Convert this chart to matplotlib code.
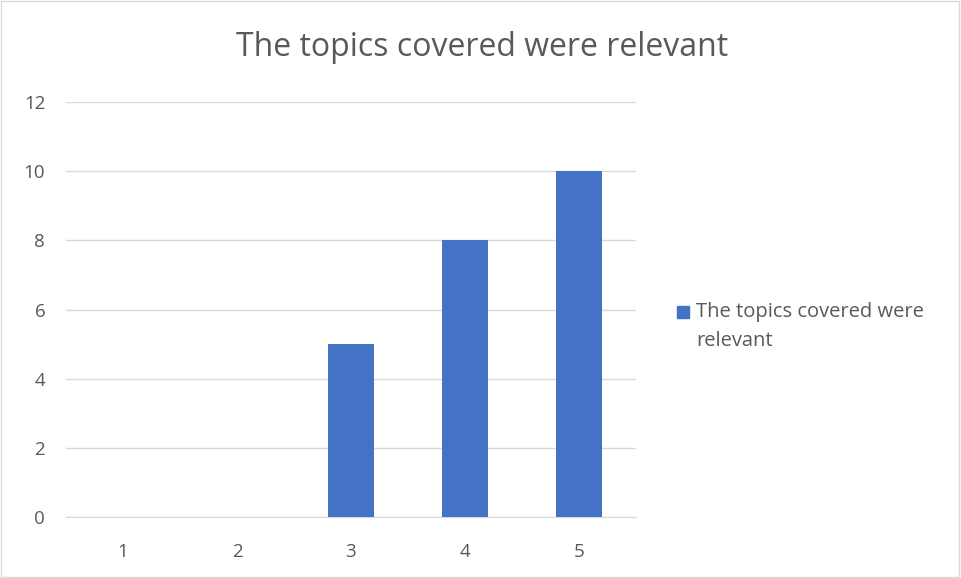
import matplotlib.pyplot as plt
from matplotlib.patches import Rectangle

categories = ['1', '2', '3', '4', '5']
values = [0, 0, 5, 8, 10]
y_ticks = [0, 2, 4, 6, 8, 10, 12]
title = 'The topics covered were relevant'
series_name = 'The topics covered were\nrelevant'

plt.rcParams['font.family'] = ['Open Sans', 'DejaVu Sans']
txt = '#595959'
bar_color = '#4472C4'

fig = plt.figure(figsize=(9.61, 5.78), dpi=100)
ax = fig.add_axes([0.0687, 0.1055, 0.593, 0.718])

x = list(range(1, len(categories) + 1))
ax.bar(x, values, width=0.4, color=bar_color, zorder=3)
ax.set_xlim(0.5, 5.5)
ax.set_ylim(0, 12)
ax.set_yticks(y_ticks)
ax.set_xticks(x)
ax.set_xticklabels(categories)
ax.grid(axis='y', color='#D9D9D9', linewidth=1, zorder=0)
for s in ['top', 'right', 'left']:
    ax.spines[s].set_visible(False)
ax.spines['bottom'].set_color('#D9D9D9')
ax.tick_params(length=0, labelsize=13.5, colors=txt)
ax.tick_params(axis='y', pad=15)
ax.tick_params(axis='x', pad=19)

fig.text(0.502, 1 - 48 / 578, title, ha='center', va='center', fontsize=23, color=txt)

# legend: square marker + label
fig.patches.append(Rectangle((677 / 961, 1 - 318 / 578), 12 / 961, 12 / 578,
                             transform=fig.transFigure, color=bar_color))
fig.text(696 / 961, 1 - 302 / 578, series_name, ha='left', va='top',
         fontsize=14.5, color=txt, linespacing=1.6)

fig.patches.append(Rectangle((0.001, 0.001), 0.997, 0.997, transform=fig.transFigure,
                             fill=False, edgecolor='#D9D9D9', linewidth=1))
fig.savefig('out.png', dpi=100)
